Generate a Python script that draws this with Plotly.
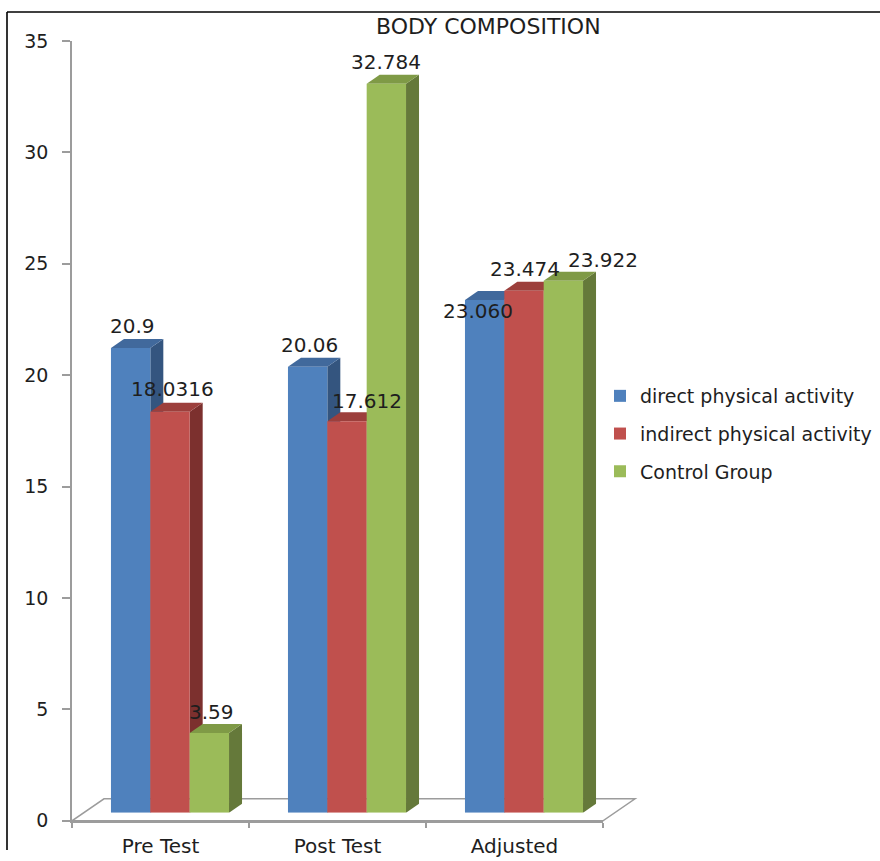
import plotly.graph_objects as go

# ---- data -------------------------------------------------------------
categories = ["Pre Test", "Post Test", "Adjusted"]
series_names = ["direct physical activity", "indirect physical activity", "Control Group"]
direct_txt = ["20.9", "20.06", "23.060"]
indirect_txt = ["18.0316", "17.612", "23.474"]
control_txt = ["3.59", "32.784", "23.922"]
y_ticks = [0, 5, 10, 15, 20, 25, 30, 35]

series_txt = [direct_txt, indirect_txt, control_txt]
series_vals = [[float(s) for s in txt] for txt in series_txt]

# ---- styling ----------------------------------------------------------
front_colors = ["#4F81BD", "#C0504D", "#9BBB59"]
top_colors = ["#41699C", "#9C3F3C", "#7F9A46"]
side_colors = ["#34557F", "#7C302E", "#65793A"]
AXIS_GRAY = "#9C9C9C"
TEXT = "#1E1E1E"
FONT = "DejaVu Sans"

# per-label pixel nudges (dx, dy), one row per series, one entry per category
label_nudge = [
    [(2, 21), (2, 21), (-7, -11)],
    [(2, 22), (20, 20), (1, 21)],
    [(2, 20), (0, 21), (40, 20)],
]

W, H = 880, 861
V_STRETCH = 1 / 0.975        # vertical stretch of the layout about the centre
AX_L, AX_R, AX_B, AX_T = 72, 603, 821, 40.7      # front axis frame (px)
BAR_SHIFT = 9.5                                    # bars sit behind the front edge
BAR_BASE, BAR_PPU = 813, 22.25                     # bar baseline and px per unit
DEPTH_DX, DEPTH_DY = 13, 9                         # bar depth
FLOOR_DX, FLOOR_DY = 32, 22                        # floor depth
BARGAP = 0.333


def px(x):
    return x / W


def py(y):
    yy = H / 2 + (y - H / 2) * V_STRETCH
    return min(max(1 - yy / H, 0.0), 1.0)


ymax = y_ticks[-1]
n_cat = len(categories)
px_per_cat = (AX_R - AX_L) / n_cat
dxu = DEPTH_DX / px_per_cat
dyu = DEPTH_DY / BAR_PPU
bw = (1 - BARGAP) / len(series_names)

fig = go.Figure()

# hidden trace that carries the category axis
fig.add_trace(go.Scatter(x=categories, y=[0] * n_cat, mode="markers",
                         marker=dict(opacity=0), showlegend=False,
                         hoverinfo="skip", xaxis="x", yaxis="y"))

for j, (name, vals) in enumerate(zip(series_names, series_vals)):
    fig.add_trace(go.Bar(
        x=list(range(n_cat)), y=vals, name=name,
        marker=dict(color=front_colors[j], line=dict(width=0)),
        xaxis="x2", yaxis="y2", legendgroup=name, hoverinfo="skip",
    ))

shapes = []
# floor of the 3D plot
shapes.append(dict(
    type="path", xref="paper", yref="paper", layer="below",
    path=(f"M {px(AX_L)},{py(AX_B)} L {px(AX_R)},{py(AX_B)} "
          f"L {px(AX_R + FLOOR_DX)},{py(AX_B - FLOOR_DY)} "
          f"L {px(AX_L + FLOOR_DX)},{py(AX_B - FLOOR_DY)} Z"),
    line=dict(color=AXIS_GRAY, width=1.5), fillcolor="white",
))

# side and top faces of each bar
for i in range(n_cat):
    for j, vals in enumerate(series_vals):
        v = vals[i]
        xc = i + (j - (len(series_names) - 1) / 2) * bw
        xl, xr = xc - bw / 2, xc + bw / 2
        shapes.append(dict(
            type="path", xref="x2", yref="y2", layer="below",
            path=(f"M {xr},0 L {xr + dxu},{dyu} L {xr + dxu},{v + dyu} "
                  f"L {xr},{v} Z"),
            fillcolor=side_colors[j], line=dict(width=0),
        ))
        shapes.append(dict(
            type="path", xref="x2", yref="y2", layer="below",
            path=(f"M {xl},{v} L {xl + dxu},{v + dyu} L {xr + dxu},{v + dyu} "
                  f"L {xr},{v} Z"),
            fillcolor=top_colors[j], line=dict(width=0),
        ))

# outer frame lines (top and left)
frame_top = min(py(6), 1 - 1 / H)
shapes.append(dict(type="line", xref="paper", yref="paper",
                   x0=px(7), y0=frame_top, x1=1, y1=frame_top,
                   line=dict(color="black", width=1.6)))
shapes.append(dict(type="line", xref="paper", yref="paper",
                   x0=px(7), y0=frame_top, x1=px(7), y1=0,
                   line=dict(color="black", width=1.6)))

annotations = []
for i in range(n_cat):
    for j, (vals, txt) in enumerate(zip(series_vals, series_txt)):
        xc = i + (j - (len(series_names) - 1) / 2) * bw
        ndx, ndy = label_nudge[j][i]
        annotations.append(dict(
            x=xc, y=vals[i], xref="x2", yref="y2", text=txt[i],
            showarrow=False, xanchor="center", yanchor="middle",
            xshift=ndx, yshift=ndy * V_STRETCH,
            font=dict(family=FONT, size=20, color=TEXT),
        ))

annotations.append(dict(
    text="BODY COMPOSITION", x=px(488), y=py(26), xref="paper", yref="paper",
    showarrow=False, xanchor="center", yanchor="middle",
    font=dict(family=FONT, size=22, color=TEXT),
))

fig.update_layout(
    width=W, height=H, autosize=False,
    margin=dict(l=0, r=0, t=0, b=0),
    paper_bgcolor="white", plot_bgcolor="rgba(0,0,0,0)",
    barmode="group", bargap=BARGAP, bargroupgap=0,
    showlegend=True,
    legend=dict(x=px(600), y=py(434), xanchor="left", yanchor="middle",
                font=dict(family=FONT, size=19, color=TEXT),
                tracegroupgap=10, bgcolor="rgba(0,0,0,0)"),
    xaxis=dict(domain=[px(AX_L), px(AX_R)], type="category",
               categoryorder="array", categoryarray=categories,
               range=[-0.5, n_cat - 0.5], tickson="boundaries",
               ticks="outside", ticklen=5, tickcolor=AXIS_GRAY, tickwidth=1.5,
               ticklabelstandoff=6,
               showline=True, linecolor=AXIS_GRAY, linewidth=1.5,
               showgrid=False, zeroline=False, anchor="y",
               tickfont=dict(family=FONT, size=20, color=TEXT),
               fixedrange=True),
    yaxis=dict(domain=[py(AX_B), py(AX_T)], range=[0, ymax],
               tickvals=y_ticks, ticks="outside", ticklen=8,
               tickcolor=AXIS_GRAY, tickwidth=1.5, ticklabelstandoff=10,
               showline=True, linecolor=AXIS_GRAY, linewidth=1.5,
               showgrid=False, zeroline=False, anchor="x",
               tickfont=dict(family=FONT, size=19, color=TEXT),
               fixedrange=True),
    xaxis2=dict(domain=[px(AX_L + BAR_SHIFT), px(AX_R + BAR_SHIFT)],
                range=[-0.5, n_cat - 0.5], visible=False, anchor="y2",
                fixedrange=True),
    yaxis2=dict(domain=[py(BAR_BASE), py(BAR_BASE - ymax * BAR_PPU)],
                range=[0, ymax], visible=False, anchor="x2",
                fixedrange=True),
    shapes=shapes,
    annotations=annotations,
)

# pin the figure to the page's top-left corner and keep the page exactly
# the size of the figure
pin_script = (
    "document.documentElement.style.margin='0';"
    "document.documentElement.style.overflow='hidden';"
    "document.body.style.margin='0';"
    "document.body.style.overflow='hidden';"
    "var gd=document.getElementById('{plot_id}');"
    "gd.style.position='fixed';gd.style.top='0';gd.style.left='0';"
    "gd.style.overflow='hidden';"
)

fig.write_html("out.html", config={"responsive": False, "displayModeBar": False},
               default_width=f"{W}px", default_height=f"{H}px",
               post_script=pin_script)
